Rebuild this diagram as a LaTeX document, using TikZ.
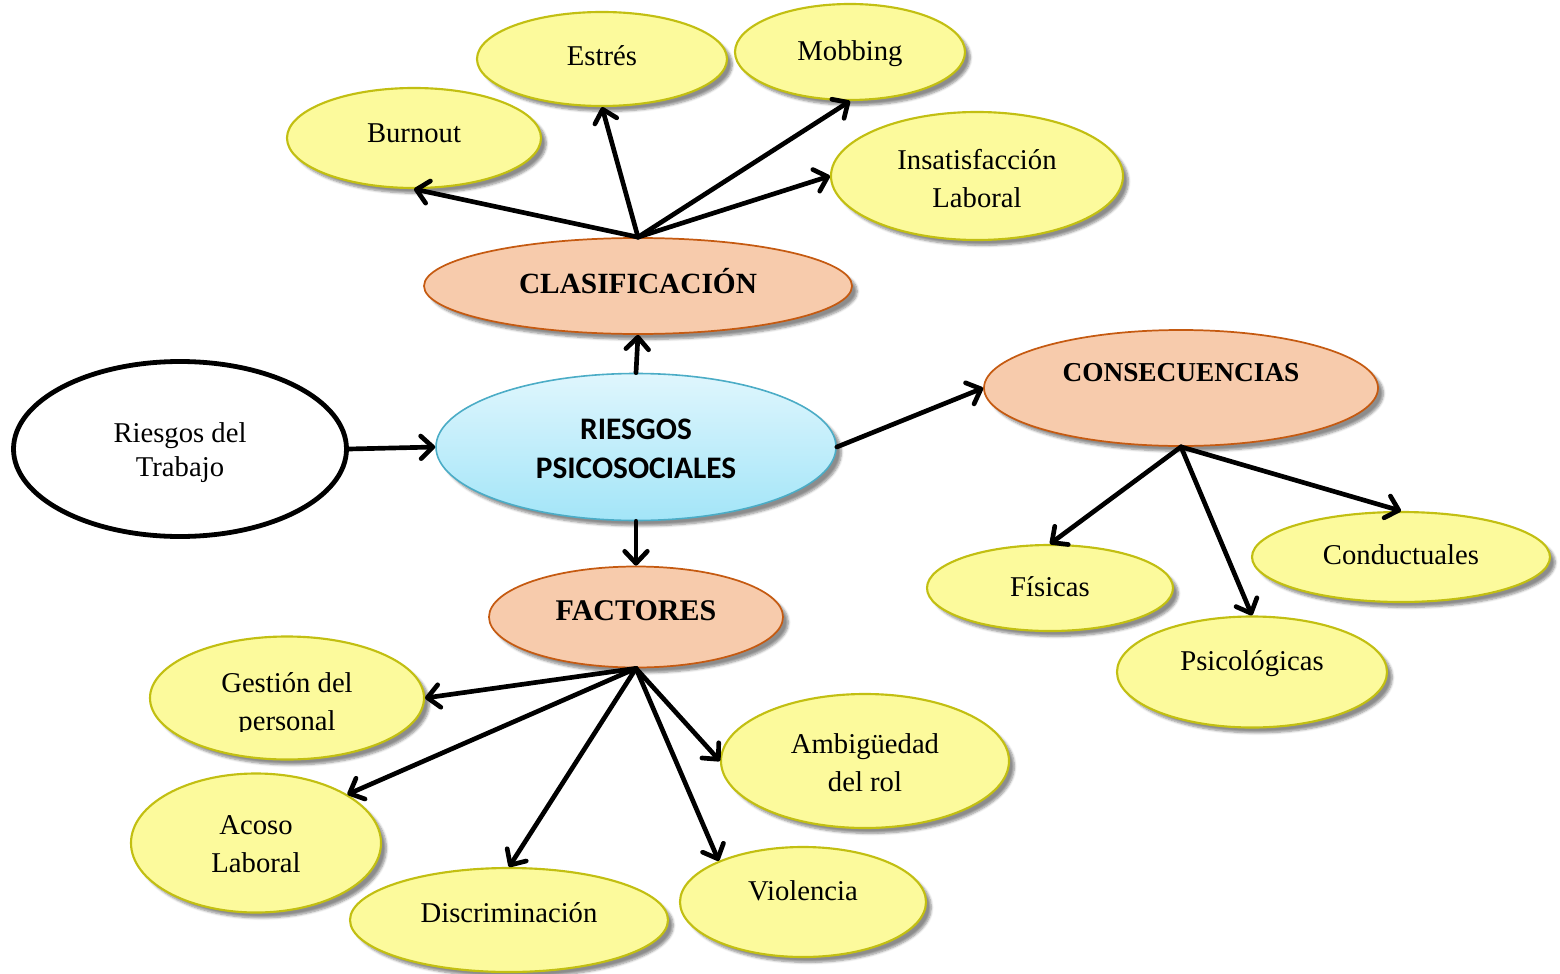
\documentclass[tikz,border=0pt]{standalone}
\usepackage{fontspec}
\setmainfont{Liberation Serif}
\newfontfamily\calibri{Carlito}
\usetikzlibrary{shapes.geometric,arrows.meta,shadows.blur}

\definecolor{leaffill}{HTML}{FCFA9C}
\definecolor{leafdraw}{HTML}{C2BF12}
\definecolor{catfill}{HTML}{F7CBAC}
\definecolor{catdraw}{HTML}{C55A11}
\definecolor{hubtop}{HTML}{DFF6FD}
\definecolor{hubbot}{HTML}{A3E5F8}
\definecolor{hubdraw}{HTML}{4BACC6}

\tikzset{
  oval/.style={ellipse, inner sep=0pt,
    blur shadow={shadow xshift=4pt, shadow yshift=-4pt, shadow blur steps=6, shadow opacity=45}},
  leaf/.style={oval, fill=leaffill, draw=leafdraw, line width=1.6pt},
  cat/.style={oval, fill=catfill, draw=catdraw, line width=1.3pt},
  hub/.style={oval, top color=hubtop, bottom color=hubbot, draw=hubdraw, line width=1.2pt},
  src/.style={ellipse, inner sep=0pt, fill=white, draw=black, line width=3.6pt},
  txt/.style={align=center, inner sep=0pt, font=\fontsize{21.5}{28.5}\selectfont},
  cattxt/.style={align=center, inner sep=0pt, font=\fontsize{22}{28}\selectfont\bfseries},
  link/.style={line width=3.5pt, line cap=round, line join=round,
    -{Straight Barb[length=9pt, width=17pt, line cap=round, line join=round]}},
}

\begin{document}
\begin{tikzpicture}[x=0.75pt, y=-0.75pt]
\useasboundingbox (0,0) rectangle (1560,974);

% ---- ellipses (sizes in pt) ----
\node[leaf, minimum width=187.5pt, minimum height=70.5pt]  (estres)  at (602,59)  {};
\node[leaf, minimum width=172.5pt, minimum height=72pt]    (mobbing) at (850,52)  {};
\node[leaf, minimum width=190.5pt, minimum height=75pt]    (burnout) at (414,138) {};
\node[leaf, minimum width=219pt,   minimum height=96pt]    (insat)   at (977,176) {};
\node[cat,  minimum width=321pt,   minimum height=72pt]    (clas)    at (638,286) {};

\node[src,  minimum width=249.75pt, minimum height=131.25pt] (trabajo) at (180,449) {};
\node[hub,  minimum width=300pt,   minimum height=110.25pt] (riesgos) at (636,447) {};
\node[cat,  minimum width=295.5pt, minimum height=87pt]    (cons)    at (1181,388) {};

\node[cat,  minimum width=220.5pt, minimum height=75.75pt] (fact)    at (636,617) {};
\node[leaf, minimum width=184.5pt, minimum height=64.5pt]  (fisicas) at (1050,588) {};
\node[leaf, minimum width=223.5pt, minimum height=67.5pt]  (conduct) at (1401,557) {};
\node[leaf, minimum width=202.5pt, minimum height=83.25pt] (psico)   at (1252,672) {};

\node[leaf, minimum width=205.5pt, minimum height=92.25pt] (gestion) at (287,698) {};
\node[leaf, minimum width=187.5pt, minimum height=104.25pt] (acoso)  at (256,843) {};
\node[leaf, minimum width=238.5pt, minimum height=78pt]    (discrim) at (509,920) {};
\node[leaf, minimum width=184.5pt, minimum height=82.5pt]  (violen)  at (803,902) {};
\node[leaf, minimum width=216pt,   minimum height=100.5pt] (ambig)   at (865,761) {};

% ---- labels ----
\node[txt] (estres-t)  at (602,56)  {Estrés};
\node[txt] (mobbing-t) at (850,54)  {Mobbing};
\node[txt] (burnout-t) at (414,133) {Burnout};
\node[txt] (insat-t)   at (977,179) {Insatisfacción\\Laboral};
\node[cattxt] (clas-t) at (638,281) {CLASIFICACIÓN};

\node[txt, font=\fontsize{21.5}{25.5}\selectfont] (trabajo-t) at (180,453) {Riesgos del\\Trabajo};
\node[align=center, inner sep=0pt, font=\fontsize{23.5}{29}\selectfont\calibri\bfseries] (riesgos-t) at (636,449) {RIESGOS\\PSICOSOCIALES};
\node[cattxt, font=\fontsize{20.5}{28}\selectfont\bfseries] (cons-t) at (1181,373) {CONSECUENCIAS};

\node[cattxt, font=\fontsize{22.5}{28}\selectfont\bfseries] (fact-t) at (636,611) {FACTORES};
\node[txt] (fisicas-t)  at (1050,587) {Físicas};
\node[txt] (conduct-t)  at (1401,555) {Conductuales};
\node[txt] (psico-t)    at (1252,664) {Psicológicas};

\begin{scope}
  \clip (150,640) rectangle (424,731);
  \node[txt] (gestion-t) at (287,705) {Gestión del\\personal};
\end{scope}
\node[txt] (acoso-t)   at (256,844) {Acoso\\Laboral};
\node[txt] (discrim-t) at (509,913) {Discriminación};
\node[txt] (violen-t)  at (803,891) {Violencia};
\node[txt] (ambig-t)   at (865,763) {Ambigüedad\\del rol};

% ---- connectors ----
\draw[link] (clas.north) -- (burnout.south);
\draw[link] (clas.north) -- (estres.south);
\draw[link] (clas.north) -- (mobbing.south);
\draw[link] (clas.north) -- (insat.west);

\draw[link] (riesgos.north) -- (clas.south);
\draw[link] (trabajo.east) -- (riesgos.west);
\draw[link] (riesgos.east) -- (cons.west);
\draw[link] (riesgos.south) -- (fact.north);

\draw[link] (cons.south) -- (fisicas.north);
\draw[link] (cons.south) -- (psico.north);
\draw[link] (cons.south) -- (conduct.north);

\draw[link] (fact.south) -- (gestion.east);
\draw[link] (fact.south) -- (acoso.28);
\draw[link] (fact.south) -- (discrim.north);
\draw[link] (fact.south) -- (violen.154);
\draw[link] (fact.south) -- (ambig.west);
\end{tikzpicture}
\end{document}
